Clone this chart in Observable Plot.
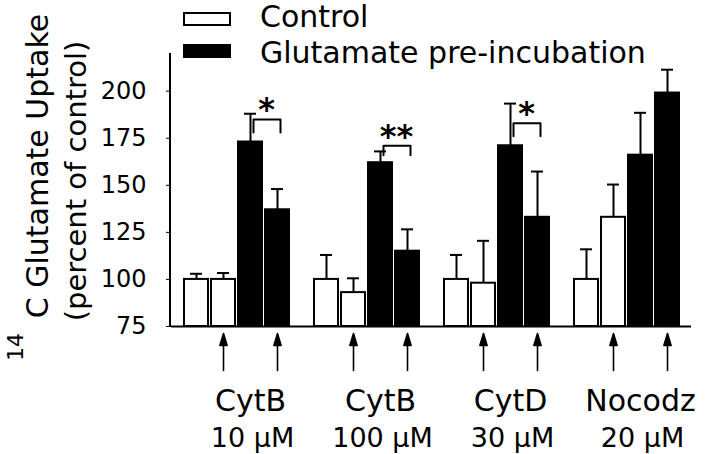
<!DOCTYPE html>
<html>
<head>
<meta charset="utf-8">
<script src="https://cdn.jsdelivr.net/npm/d3@7"></script>
<script src="https://cdn.jsdelivr.net/npm/@observablehq/plot@0.6"></script>
<style>
  body { margin: 0; background: #fff; }
  svg { display: block; }
</style>
</head>
<body>
<div id="chart"></div>
<script>
// ---- data ----
const drugs = ["CytB", "CytB", "CytD", "Nocodz"];
const doses = ["10 μM", "100 μM", "30 μM", "20 μM"];
const slots = ["Control", "Control + drug", "Glutamate", "Glutamate + drug"];
const slotCondition = ["Control", "Control", "Glutamate pre-incubation", "Glutamate pre-incubation"];
const slotDrug = [false, true, false, true];

const meanControl       = [100, 100, 100, 100];
const meanControlDrug   = [100, 93, 98, 133];
const meanGlutamate     = [173, 162, 171, 166];
const meanGlutamateDrug = [137, 115, 133, 199];

const errControl       = [3, 13, 13, 16];
const errControlDrug   = [3.4, 7.6, 22.5, 17.4];
const errGlutamate     = [15, 6, 22.4, 22.5];
const errGlutamateDrug = [11, 11.6, 24.3, 12.4];

const sigGroupIndex = [0, 1, 2];
const sigLabels = ["*", "**", "*"];
const bracketTop = [185, 171, 183];
const bracketLeg = [178, 166, 176];

const yTicks = [75, 100, 125, 150, 175, 200];
const yDomain = [75, 220];
const baseline = 75;
const legendLabels = ["Control", "Glutamate pre-incubation"];
const yTitle1 = "C Glutamate Uptake";
const yTitleSup = "14";
const yTitle2 = "(percent of control)";

// ---- tables built from the arrays ----
const groupKeys = drugs.map((d, i) => d + " " + doses[i]);
const meansBySlot = [meanControl, meanControlDrug, meanGlutamate, meanGlutamateDrug];
const errsBySlot = [errControl, errControlDrug, errGlutamate, errGlutamateDrug];

const rows = [];
groupKeys.forEach((g, gi) => {
  slots.forEach((s, si) => {
    rows.push({
      group: g, slot: s, condition: slotCondition[si], drug: slotDrug[si],
      mean: meansBySlot[si][gi], top: meansBySlot[si][gi] + errsBySlot[si][gi]
    });
  });
});
const arrowRows = rows.filter(d => d.drug);
const labelRows = groupKeys.map((g, i) => ({group: g, drug: drugs[i], dose: doses[i]}));

const bracketRows = [];
const starRows = [];
sigGroupIndex.forEach((gi, k) => {
  const g = groupKeys[gi];
  bracketRows.push({group: g, slot: slots[2], v: bracketLeg[k]});
  bracketRows.push({group: g, slot: slots[2], v: bracketTop[k]});
  bracketRows.push({group: g, slot: slots[3], v: bracketTop[k]});
  bracketRows.push({group: g, slot: slots[3], v: bracketLeg[k]});
  starRows.push({group: g, slot: slots[3], v: bracketTop[k], label: sigLabels[k]});
});

const arrowShape = {
  draw(ctx, l) {
    const head = 12, half = 3.6;
    ctx.moveTo(0, 0);
    ctx.lineTo(0, -l + head);
    ctx.moveTo(0, -l);
    ctx.lineTo(half, -l + head);
    ctx.lineTo(-half, -l + head);
    ctx.closePath();
  }
};

const W = 720, H = 454;
const mL = 170, mR = 28, mT = 53, mB = 128;
const font = "DejaVu Sans";

const plot = Plot.plot({
  width: W, height: H,
  marginLeft: mL, marginRight: mR, marginTop: mT, marginBottom: mB,
  style: {fontFamily: font, fontSize: "24px", background: "white", color: "black", overflow: "visible"},
  fx: {domain: groupKeys, padding: 0, axis: null, label: null},
  x: {domain: slots, paddingInner: 0.127, paddingOuter: 0.436, axis: null, label: null},
  y: {domain: yDomain, ticks: yTicks, tickSize: 5, tickPadding: 20, label: null, tickFormat: d => String(d)},
  color: {domain: legendLabels, range: ["white", "black"]},
  marks: [
    Plot.ruleX(rows, {fx: "group", x: "slot", y1: "mean", y2: "top", stroke: "black", strokeWidth: 2}),
    Plot.tickY(rows, {fx: "group", x: "slot", y: "top", stroke: "black", strokeWidth: 2, insetLeft: 6, insetRight: 6}),
    Plot.barY(rows, {fx: "group", x: "slot", y1: baseline, y2: "mean", fill: "condition", stroke: "black", strokeWidth: 2}),
    Plot.ruleY([baseline], {stroke: "black", strokeWidth: 2}),
    Plot.line(bracketRows, {fx: "group", x: "slot", y: "v", z: "group", stroke: "black", strokeWidth: 2, dx: 3}),
    Plot.text(starRows, {fx: "group", x: "slot", y: "v", text: "label", dx: -11, dy: 1, lineAnchor: "bottom", fontSize: 32, fontWeight: "bold", fill: "black"}),
    Plot.vector(arrowRows, {fx: "group", x: "slot", frameAnchor: "bottom", dy: 44, anchor: "start", length: 37, shape: arrowShape, stroke: "black", fill: "black", strokeWidth: 1.6}),
    Plot.text(labelRows, {fx: "group", text: "drug", frameAnchor: "bottom", lineAnchor: "bottom", dy: 84, dx: 14, fontSize: 30, fill: "black"}),
    Plot.text(labelRows, {fx: "group", text: "dose", frameAnchor: "bottom", lineAnchor: "bottom", dy: 120, dx: 16, fontSize: 27, fill: "black"})
  ]
});

document.getElementById("chart").appendChild(plot);

// ---- decorations: y axis line, legend, y-axis title ----
const svg = d3.select(plot.tagName.toLowerCase() === "svg" ? plot : plot.querySelector("svg"));
const ys = plot.scale("y");
const deco = svg.append("g").attr("font-family", font).attr("fill", "black").attr("text-anchor", "start");

deco.append("line")
  .attr("x1", mL).attr("x2", mL)
  .attr("y1", ys.apply(yDomain[0]) + 1).attr("y2", ys.apply(yDomain[1]))
  .attr("stroke", "black").attr("stroke-width", 2);

const legendFill = ["white", "black"];
const legendY = [13, 45];
const legendBase = [27, 63];
legendLabels.forEach((lab, i) => {
  deco.append("rect")
    .attr("x", 184).attr("y", legendY[i]).attr("width", 46).attr("height", 12)
    .attr("fill", legendFill[i]).attr("stroke", "black").attr("stroke-width", 2);
  deco.append("text")
    .attr("x", 260).attr("y", legendBase[i])
    .attr("text-anchor", "start")
    .attr("font-size", 30).text(lab);
});

deco.append("text")
  .attr("transform", "translate(48,166) rotate(-90)")
  .attr("text-anchor", "middle").attr("font-size", 30).text(yTitle1);
deco.append("text")
  .attr("transform", "translate(23,333) rotate(-90)")
  .attr("text-anchor", "end").attr("font-size", 22).text(yTitleSup);
deco.append("text")
  .attr("transform", "translate(86,181) rotate(-90)")
  .attr("text-anchor", "middle").attr("font-size", 29).text(yTitle2);
</script>
</body>
</html>
